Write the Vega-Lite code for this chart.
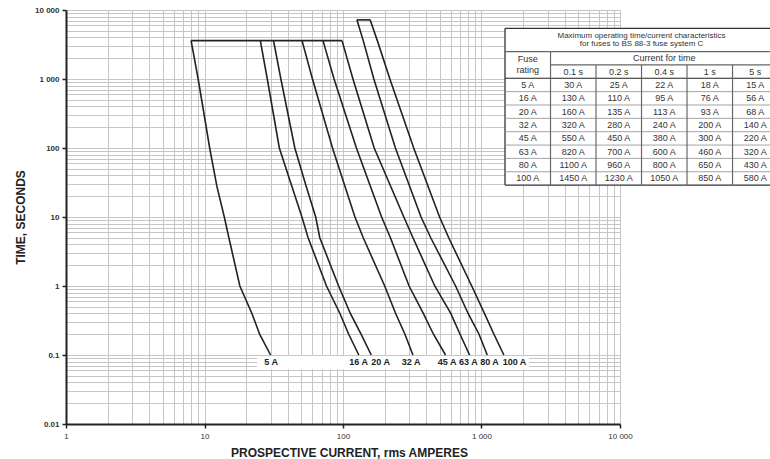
{
  "$schema": "https://vega.github.io/schema/vega-lite/v6.json",
  "width": 554,
  "height": 414,
  "autosize": {"type": "none"},
  "padding": {"left": 66, "top": 10, "right": 150, "bottom": 35},
  "background": "white",
  "config": {"view": {"stroke": null}, "font": "Liberation Sans"},
  "datasets": {
    "curves": [
      {"fuse": "5 A", "I": 8.0, "t": 3600}, {"fuse": "5 A", "I": 9.0, "t": 1000}, {"fuse": "5 A", "I": 10.9, "t": 100}, {"fuse": "5 A", "I": 12.3, "t": 27.5}, {"fuse": "5 A", "I": 13.9, "t": 10}, {"fuse": "5 A", "I": 15, "t": 5}, {"fuse": "5 A", "I": 18, "t": 1}, {"fuse": "5 A", "I": 22, "t": 0.4}, {"fuse": "5 A", "I": 25, "t": 0.2}, {"fuse": "5 A", "I": 30, "t": 0.1},
      {"fuse": "16 A", "I": 25.3, "t": 3600}, {"fuse": "16 A", "I": 28.4, "t": 1000}, {"fuse": "16 A", "I": 34.7, "t": 100}, {"fuse": "16 A", "I": 42.2, "t": 30}, {"fuse": "16 A", "I": 50.5, "t": 10}, {"fuse": "16 A", "I": 56, "t": 5}, {"fuse": "16 A", "I": 76, "t": 1}, {"fuse": "16 A", "I": 95, "t": 0.4}, {"fuse": "16 A", "I": 110, "t": 0.2}, {"fuse": "16 A", "I": 130, "t": 0.1},
      {"fuse": "20 A", "I": 31.5, "t": 3600}, {"fuse": "20 A", "I": 35.6, "t": 1000}, {"fuse": "20 A", "I": 44.9, "t": 100}, {"fuse": "20 A", "I": 53.6, "t": 30}, {"fuse": "20 A", "I": 63.5, "t": 10}, {"fuse": "20 A", "I": 68, "t": 5}, {"fuse": "20 A", "I": 93, "t": 1}, {"fuse": "20 A", "I": 113, "t": 0.4}, {"fuse": "20 A", "I": 135, "t": 0.2}, {"fuse": "20 A", "I": 160, "t": 0.1},
      {"fuse": "32 A", "I": 50.6, "t": 3600}, {"fuse": "32 A", "I": 60.2, "t": 1000}, {"fuse": "32 A", "I": 84, "t": 100}, {"fuse": "32 A", "I": 102, "t": 30}, {"fuse": "32 A", "I": 122, "t": 10}, {"fuse": "32 A", "I": 140, "t": 5}, {"fuse": "32 A", "I": 200, "t": 1}, {"fuse": "32 A", "I": 240, "t": 0.4}, {"fuse": "32 A", "I": 280, "t": 0.2}, {"fuse": "32 A", "I": 320, "t": 0.1},
      {"fuse": "45 A", "I": 71.7, "t": 3600}, {"fuse": "45 A", "I": 86.2, "t": 1000}, {"fuse": "45 A", "I": 125, "t": 100}, {"fuse": "45 A", "I": 190, "t": 10}, {"fuse": "45 A", "I": 220, "t": 5}, {"fuse": "45 A", "I": 300, "t": 1}, {"fuse": "45 A", "I": 380, "t": 0.4}, {"fuse": "45 A", "I": 450, "t": 0.2}, {"fuse": "45 A", "I": 550, "t": 0.1},
      {"fuse": "63 A", "I": 98.4, "t": 3600}, {"fuse": "63 A", "I": 118, "t": 1000}, {"fuse": "63 A", "I": 168, "t": 100}, {"fuse": "63 A", "I": 275, "t": 10}, {"fuse": "63 A", "I": 320, "t": 5}, {"fuse": "63 A", "I": 460, "t": 1}, {"fuse": "63 A", "I": 600, "t": 0.4}, {"fuse": "63 A", "I": 700, "t": 0.2}, {"fuse": "63 A", "I": 820, "t": 0.1},
      {"fuse": "80 A", "I": 126, "t": 7200}, {"fuse": "80 A", "I": 140, "t": 3600}, {"fuse": "80 A", "I": 167, "t": 1000}, {"fuse": "80 A", "I": 239, "t": 100}, {"fuse": "80 A", "I": 366, "t": 10}, {"fuse": "80 A", "I": 430, "t": 5}, {"fuse": "80 A", "I": 650, "t": 1}, {"fuse": "80 A", "I": 800, "t": 0.4}, {"fuse": "80 A", "I": 960, "t": 0.2}, {"fuse": "80 A", "I": 1100, "t": 0.1},
      {"fuse": "100 A", "I": 157, "t": 7200}, {"fuse": "100 A", "I": 177, "t": 3600}, {"fuse": "100 A", "I": 218, "t": 1000}, {"fuse": "100 A", "I": 324, "t": 100}, {"fuse": "100 A", "I": 498, "t": 10}, {"fuse": "100 A", "I": 580, "t": 5}, {"fuse": "100 A", "I": 850, "t": 1}, {"fuse": "100 A", "I": 1050, "t": 0.4}, {"fuse": "100 A", "I": 1230, "t": 0.2}, {"fuse": "100 A", "I": 1450, "t": 0.1},
      {"fuse": "top 1 h", "I": 8.0, "t": 3600}, {"fuse": "top 1 h", "I": 98.4, "t": 3600},
      {"fuse": "top 2 h", "I": 126, "t": 7200}, {"fuse": "top 2 h", "I": 157, "t": 7200}
    ],
    "labels": [
      {"fuse": "5 A", "I": 30.3, "t": 0.078},
      {"fuse": "16 A", "I": 129.6, "t": 0.078},
      {"fuse": "20 A", "I": 187, "t": 0.078},
      {"fuse": "32 A", "I": 310, "t": 0.078},
      {"fuse": "45 A", "I": 564, "t": 0.078},
      {"fuse": "63 A", "I": 803, "t": 0.078},
      {"fuse": "80 A", "I": 1143, "t": 0.078},
      {"fuse": "100 A", "I": 1730, "t": 0.078}
    ],
    "strip": [{"I1": 24, "I2": 2200, "t1": 0.097, "t2": 0.062}],
    "box": [{"c1": -0.5, "c2": 6, "r1": -4.245, "r2": 7.5}],
    "tlines": [
      {"c1": -0.5, "c2": 6, "r1": -4.245, "r2": -4.245, "k": "border"},
      {"c1": -0.5, "c2": -0.5, "r1": -4.245, "r2": 7.5, "k": "border"},
      {"c1": -0.5, "c2": 6, "r1": 7.5, "r2": 7.5, "k": "border"},
      {"c1": -0.5, "c2": 6, "r1": -2.5, "r2": -2.5, "k": "line"},
      {"c1": 0.5, "c2": 6, "r1": -1.5, "r2": -1.5, "k": "line"},
      {"c1": -0.5, "c2": 6, "r1": -0.5, "r2": -0.5, "k": "thick"},
      {"c1": -0.5, "c2": 6, "r1": 0.5, "r2": 0.5, "k": "grid"},
      {"c1": -0.5, "c2": 6, "r1": 1.5, "r2": 1.5, "k": "grid"},
      {"c1": -0.5, "c2": 6, "r1": 2.5, "r2": 2.5, "k": "grid"},
      {"c1": -0.5, "c2": 6, "r1": 3.5, "r2": 3.5, "k": "grid"},
      {"c1": -0.5, "c2": 6, "r1": 4.5, "r2": 4.5, "k": "grid"},
      {"c1": -0.5, "c2": 6, "r1": 5.5, "r2": 5.5, "k": "grid"},
      {"c1": -0.5, "c2": 6, "r1": 6.5, "r2": 6.5, "k": "grid"},
      {"c1": 0.5, "c2": 0.5, "r1": -2.5, "r2": 7.5, "k": "line"},
      {"c1": 1.5, "c2": 1.5, "r1": -1.5, "r2": 7.5, "k": "line"},
      {"c1": 2.5, "c2": 2.5, "r1": -1.5, "r2": 7.5, "k": "line"},
      {"c1": 3.5, "c2": 3.5, "r1": -1.5, "r2": 7.5, "k": "line"},
      {"c1": 4.5, "c2": 4.5, "r1": -1.5, "r2": 7.5, "k": "line"}
    ],
    "heads": [
      {"t": "Maximum operating time/current characteristics", "c": 2.5, "r": -3.69, "g": "title"},
      {"t": "for fuses to BS 88-3 fuse system C", "c": 2.5, "r": -3.05, "g": "title"},
      {"t": "Fuse", "c": 0, "r": -1.95, "g": "head"},
      {"t": "rating", "c": 0, "r": -1.1, "g": "head"},
      {"t": "Current for time", "c": 3, "r": -2, "g": "head"},
      {"t": "0.1 s", "c": 1, "r": -1, "g": "head"},
      {"t": "0.2 s", "c": 2, "r": -1, "g": "head"},
      {"t": "0.4 s", "c": 3, "r": -1, "g": "head"},
      {"t": "1 s", "c": 4, "r": -1, "g": "head"},
      {"t": "5 s", "c": 5, "r": -1, "g": "head"}
    ],
    "cells": [
      {"r": 0, "c": 0, "t": "5 A"}, {"r": 0, "c": 1, "t": "30 A"}, {"r": 0, "c": 2, "t": "25 A"}, {"r": 0, "c": 3, "t": "22 A"}, {"r": 0, "c": 4, "t": "18 A"}, {"r": 0, "c": 5, "t": "15 A"},
      {"r": 1, "c": 0, "t": "16 A"}, {"r": 1, "c": 1, "t": "130 A"}, {"r": 1, "c": 2, "t": "110 A"}, {"r": 1, "c": 3, "t": "95 A"}, {"r": 1, "c": 4, "t": "76 A"}, {"r": 1, "c": 5, "t": "56 A"},
      {"r": 2, "c": 0, "t": "20 A"}, {"r": 2, "c": 1, "t": "160 A"}, {"r": 2, "c": 2, "t": "135 A"}, {"r": 2, "c": 3, "t": "113 A"}, {"r": 2, "c": 4, "t": "93 A"}, {"r": 2, "c": 5, "t": "68 A"},
      {"r": 3, "c": 0, "t": "32 A"}, {"r": 3, "c": 1, "t": "320 A"}, {"r": 3, "c": 2, "t": "280 A"}, {"r": 3, "c": 3, "t": "240 A"}, {"r": 3, "c": 4, "t": "200 A"}, {"r": 3, "c": 5, "t": "140 A"},
      {"r": 4, "c": 0, "t": "45 A"}, {"r": 4, "c": 1, "t": "550 A"}, {"r": 4, "c": 2, "t": "450 A"}, {"r": 4, "c": 3, "t": "380 A"}, {"r": 4, "c": 4, "t": "300 A"}, {"r": 4, "c": 5, "t": "220 A"},
      {"r": 5, "c": 0, "t": "63 A"}, {"r": 5, "c": 1, "t": "820 A"}, {"r": 5, "c": 2, "t": "700 A"}, {"r": 5, "c": 3, "t": "600 A"}, {"r": 5, "c": 4, "t": "460 A"}, {"r": 5, "c": 5, "t": "320 A"},
      {"r": 6, "c": 0, "t": "80 A"}, {"r": 6, "c": 1, "t": "1100 A"}, {"r": 6, "c": 2, "t": "960 A"}, {"r": 6, "c": 3, "t": "800 A"}, {"r": 6, "c": 4, "t": "650 A"}, {"r": 6, "c": 5, "t": "430 A"},
      {"r": 7, "c": 0, "t": "100 A"}, {"r": 7, "c": 1, "t": "1450 A"}, {"r": 7, "c": 2, "t": "1230 A"}, {"r": 7, "c": 3, "t": "1050 A"}, {"r": 7, "c": 4, "t": "850 A"}, {"r": 7, "c": 5, "t": "580 A"}
    ]
  },
  "layer": [
    {
      "layer": [
        {
          "data": {"name": "strip"},
          "mark": {"type": "rect", "fill": "white", "stroke": null},
          "encoding": {
            "x": {"field": "I1", "type": "quantitative", "scale": {"type": "log", "domain": [1, 10000], "nice": false},
              "axis": {"orient": "bottom", "values": [1,2,3,4,5,6,7,8,9,10,20,30,40,50,60,70,80,90,100,200,300,400,500,600,700,800,900,1000,2000,3000,4000,5000,6000,7000,8000,9000,10000],
                "grid": true, "gridColor": "#c6c6c6", "gridWidth": 1, "labels": false, "ticks": false, "domain": false, "title": null}},
            "x2": {"field": "I2"},
            "y": {"field": "t1", "type": "quantitative", "scale": {"type": "log", "domain": [0.01, 10000], "nice": false},
              "axis": {"orient": "left", "values": [0.01,0.02,0.03,0.04,0.05,0.06,0.07,0.08,0.09,0.1,0.2,0.3,0.4,0.5,0.6,0.7,0.8,0.9,1,2,3,4,5,6,7,8,9,10,20,30,40,50,60,70,80,90,100,200,300,400,500,600,700,800,900,1000,2000,3000,4000,5000,6000,7000,8000,9000,10000],
                "grid": true, "gridColor": "#c6c6c6", "gridWidth": 1, "labels": false, "ticks": false, "domain": false, "title": null}},
            "y2": {"field": "t2"}
          }
        },
        {
          "data": {"name": "curves"},
          "mark": {"type": "line", "color": "#222222", "strokeWidth": 1.6},
          "encoding": {
            "x": {"field": "I", "type": "quantitative", "scale": {"type": "log", "domain": [1, 10000], "nice": false},
              "axis": {"orient": "bottom", "values": [1, 10, 100, 1000, 10000], "grid": false,
                "labelExpr": "replace(format(datum.value, ','), ',', ' ')",
                "labelFont": "Liberation Sans", "labelFontSize": 8, "labelColor": "#333333", "labelPadding": 4, "labelFlush": false, "labelOverlap": false, "labelBound": false,
                "tickSize": 4, "tickColor": "#222222", "tickWidth": 1.5, "domainColor": "#222222", "domainWidth": 2,
                "title": "PROSPECTIVE CURRENT, rms AMPERES", "titleFont": "Liberation Sans", "titleFontSize": 12, "titleFontWeight": "bold", "titleColor": "#222222", "titlePadding": 7, "titleX": 283}},
            "y": {"field": "t", "type": "quantitative", "scale": {"type": "log", "domain": [0.01, 10000], "nice": false},
              "axis": {"orient": "left", "values": [0.01, 0.1, 1, 10, 100, 1000, 10000], "grid": false,
                "labelExpr": "replace(format(datum.value, ','), ',', ' ')",
                "labelFont": "Liberation Sans", "labelFontSize": 8, "labelFontWeight": "bold", "labelColor": "#333333", "labelPadding": 3, "labelFlush": false, "labelOverlap": false, "labelBound": false,
                "tickSize": 4, "tickColor": "#222222", "tickWidth": 1.5, "domainColor": "#222222", "domainWidth": 2,
                "title": "TIME, SECONDS", "titleFont": "Liberation Sans", "titleFontSize": 12, "titleFontWeight": "bold", "titleColor": "#222222", "titlePadding": 7}},
            "detail": {"field": "fuse", "type": "nominal"},
            "order": {"field": "I", "type": "quantitative"}
          }
        },
        {
          "data": {"name": "labels"},
          "mark": {"type": "text", "font": "Liberation Sans", "fontSize": 9, "fontWeight": "bold", "color": "#222222", "align": "center", "baseline": "middle"},
          "encoding": {
            "x": {"field": "I", "type": "quantitative", "scale": {"type": "log", "domain": [1, 10000], "nice": false}, "axis": null},
            "y": {"field": "t", "type": "quantitative", "scale": {"type": "log", "domain": [0.01, 10000], "nice": false}, "axis": null},
            "text": {"field": "fuse"}
          }
        }
      ],
      "resolve": {"axis": {"x": "independent", "y": "independent"}}
    },
    {
      "layer": [
        {
          "data": {"name": "box"},
          "mark": {"type": "rect", "fill": "white", "stroke": null},
          "encoding": {
            "x": {"field": "c1", "type": "quantitative", "scale": {"type": "linear", "domain": [-10.148, 2.027], "nice": false, "zero": false}, "axis": null},
            "x2": {"field": "c2"},
            "y": {"field": "r1", "type": "quantitative", "scale": {"type": "linear", "domain": [-5.616, 25.395], "nice": false, "zero": false, "reverse": true}, "axis": null},
            "y2": {"field": "r2"}
          }
        },
        {
          "data": {"name": "tlines"},
          "mark": {"type": "rule"},
          "encoding": {
            "x": {"field": "c1", "type": "quantitative", "axis": null},
            "x2": {"field": "c2"},
            "y": {"field": "r1", "type": "quantitative", "axis": null},
            "y2": {"field": "r2"},
            "strokeWidth": {"field": "k", "type": "nominal", "scale": {"domain": ["border", "line", "thick", "grid"], "range": [1.3, 0.9, 2, 0.8]}, "legend": null},
            "color": {"field": "k", "type": "nominal", "scale": {"domain": ["border", "line", "thick", "grid"], "range": ["#333333", "#666666", "#222222", "#9a9a9a"]}, "legend": null}
          }
        },
        {
          "data": {"name": "heads"},
          "mark": {"type": "text", "font": "Liberation Sans", "align": "center", "baseline": "middle"},
          "encoding": {
            "x": {"field": "c", "type": "quantitative", "axis": null},
            "y": {"field": "r", "type": "quantitative", "axis": null},
            "text": {"field": "t"},
            "size": {"field": "g", "type": "nominal", "scale": {"domain": ["title", "head"], "range": [8, 9]}, "legend": null},
            "color": {"value": "#333333"}
          }
        },
        {
          "data": {"name": "cells"},
          "mark": {"type": "text", "font": "Liberation Sans", "fontSize": 9, "align": "center", "baseline": "middle", "color": "#333333"},
          "encoding": {
            "x": {"field": "c", "type": "quantitative", "axis": null},
            "y": {"field": "r", "type": "quantitative", "axis": null},
            "text": {"field": "t"}
          }
        }
      ]
    }
  ],
  "resolve": {"scale": {"x": "independent", "y": "independent"}}
}
